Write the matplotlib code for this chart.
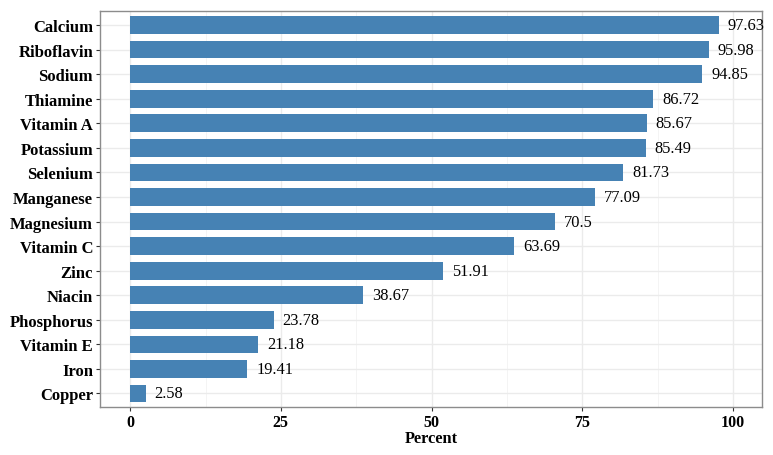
import matplotlib.pyplot as plt
from matplotlib.ticker import MultipleLocator

nutrients = ["Copper", "Iron", "Vitamin E", "Phosphorus", "Niacin", "Zinc",
             "Vitamin C", "Magnesium", "Manganese", "Selenium", "Potassium",
             "Vitamin A", "Thiamine", "Sodium", "Riboflavin", "Calcium"]
percent = [2.58, 19.41, 21.18, 23.78, 38.67, 51.91, 63.69, 70.5, 77.09,
           81.73, 85.49, 85.67, 86.72, 94.85, 95.98, 97.63]
labels = ["2.58", "19.41", "21.18", "23.78", "38.67", "51.91", "63.69", "70.5",
          "77.09", "81.73", "85.49", "85.67", "86.72", "94.85", "95.98", "97.63"]

plt.rcParams["font.family"] = ["Liberation Serif", "DejaVu Serif"]

fig = plt.figure(figsize=(7.73, 4.56), dpi=100)
ax = fig.add_axes([100 / 773, 48 / 456, 662 / 773, 396 / 456])

pos = list(range(1, len(nutrients) + 1))
ax.barh(pos, percent, height=0.72, color="#4682B4", zorder=3)

# подписи значений справа от столбцов
for p, v, t in zip(pos, percent, labels):
    ax.text(v + 1.5, p, t, va="center", ha="left", fontsize=11.8, color="black", zorder=4)

ax.set_xlim(-5, 104.8)
ax.set_ylim(0.45, 16.57)
ax.set_yticks(pos)
ax.set_yticklabels(nutrients, fontsize=12, fontweight="bold")
ax.xaxis.set_major_locator(MultipleLocator(25))
ax.xaxis.set_minor_locator(MultipleLocator(12.5))
for lbl in ax.get_xticklabels():
    lbl.set_fontweight("bold")
    lbl.set_fontsize(11.5)
ax.set_xlabel("Percent", fontsize=11.8, fontweight="bold", labelpad=0)

ax.grid(which="major", color="#EBEBEB", linewidth=1.0, zorder=0)
ax.grid(which="minor", axis="x", color="#F2F2F2", linewidth=0.6, zorder=0)
ax.tick_params(axis="both", which="major", length=3, color="#333333", width=0.8)
ax.tick_params(axis="y", which="major", pad=2)
ax.tick_params(axis="x", which="major", pad=2)
ax.tick_params(axis="x", which="minor", length=0)
for s in ax.spines.values():
    s.set_color("#8C8C8C")
    s.set_linewidth(1.0)

fig.savefig("out.png", dpi=100)
